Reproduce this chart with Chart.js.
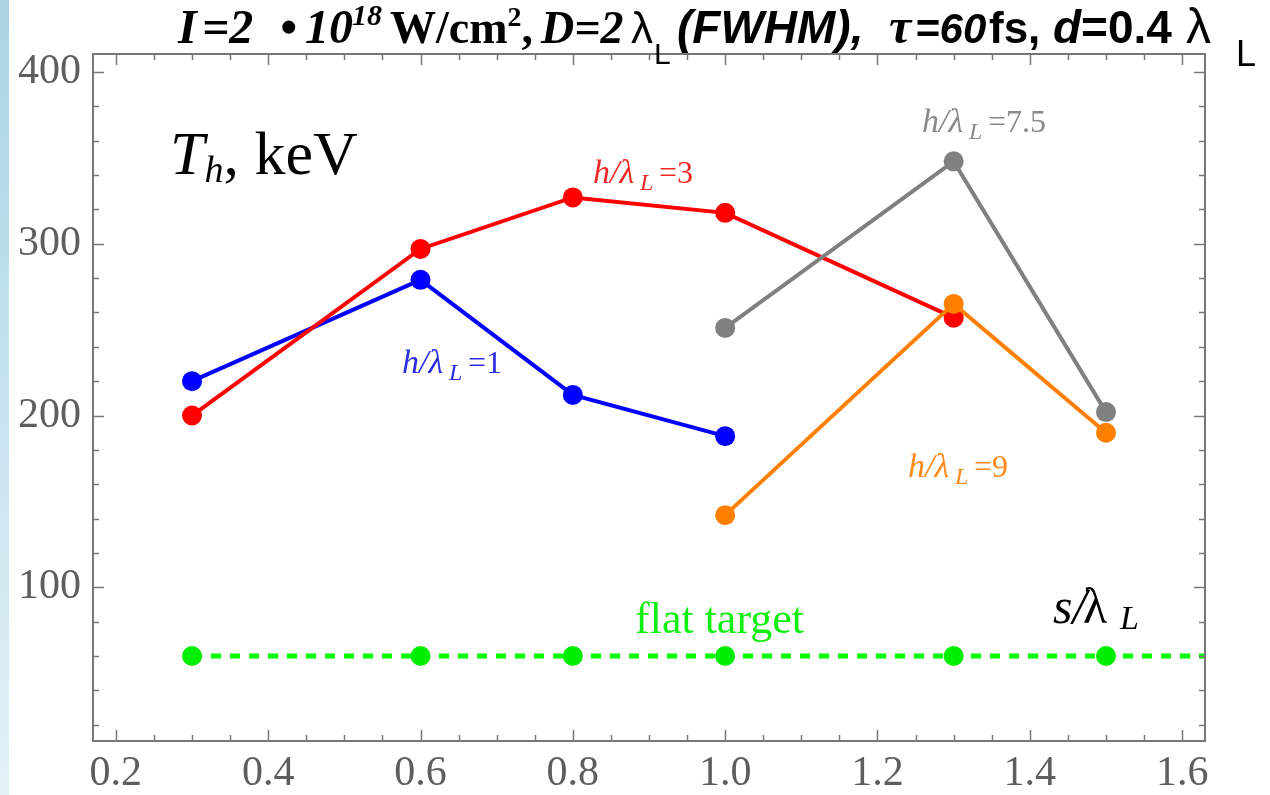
<!DOCTYPE html>
<html>
<head>
<meta charset="utf-8">
<script src="https://cdn.jsdelivr.net/npm/chart.js@4.4.1/dist/chart.umd.min.js"></script>
<style>
  html, body { margin: 0; padding: 0; background: #fff; }
  #wrap { position: relative; width: 1270px; height: 795px; }
  #strip {
    position: absolute; left: 0; top: 0; width: 9px; height: 795px;
    background: linear-gradient(180deg, #a9d4e4 0%, #c6e3ee 50%, #e2f1f6 100%);
  }
  canvas { position: absolute; left: 0; top: 0; }
</style>
</head>
<body>
<div id="wrap">
  <canvas id="chart" width="1270" height="795"></canvas>
  <div id="strip"></div>
</div>
<script>
// data
const sBlue = [0.3, 0.6, 0.8, 1.0];
const tBlue = [220, 279, 212, 188];        // h/λL = 1
const sRed = [0.3, 0.6, 0.8, 1.0, 1.3];
const tRed = [200, 297, 327, 318, 257];    // h/λL = 3
const sGray = [1.0, 1.3, 1.5];
const tGray = [251, 348, 202];             // h/λL = 7.5
const sOrange = [1.0, 1.3, 1.5];
const tOrange = [142, 265, 190];           // h/λL = 9
const sFlat = [0.3, 0.6, 0.8, 1.0, 1.3, 1.5];
const tFlat = [60, 60, 60, 60, 60, 60];    // flat target

const xTicks = [0.2, 0.4, 0.6, 0.8, 1.0, 1.2, 1.4, 1.6];
const yTicks = [100, 200, 300, 400];
const X_MIN = 0.17, X_MAX = 1.63;
const Y_MIN = 10.5, Y_MAX = 410.5;

const pts = (xs, ys) => xs.map((x, i) => ({ x, y: ys[i] }));

function serie(xs, ys, color) {
  return {
    data: pts(xs, ys),
    borderColor: color,
    backgroundColor: color,
    borderWidth: 4,
    pointRadius: 10,
    pointHoverRadius: 10,
    pointBorderWidth: 0,
    showLine: true
  };
}

// frame with inward ticks, like the original
const pluginMarco = {
  id: "marco",
  afterDatasetsDraw(chart) {
    const { ctx, chartArea: a, scales } = chart;
    const sx = scales.x, sy = scales.y;
    ctx.save();
    ctx.strokeStyle = "#777";
    ctx.lineWidth = 2;
    ctx.strokeRect(a.left, a.top, a.right - a.left, a.bottom - a.top);
    ctx.lineWidth = 1.5;
    ctx.beginPath();
    for (let v = 0.2; v <= X_MAX + 1e-9; v += 0.05) {
      const major = xTicks.some(t => Math.abs(t - v) < 1e-6);
      const len = major ? 11 : 6;
      const px = Math.round(sx.getPixelForValue(v)) + 0.5;
      ctx.moveTo(px, a.bottom); ctx.lineTo(px, a.bottom - len);
      ctx.moveTo(px, a.top); ctx.lineTo(px, a.top + len);
    }
    for (let v = 20; v <= Y_MAX; v += 20) {
      const major = yTicks.includes(v);
      const len = major ? 11 : 6;
      const py = Math.round(sy.getPixelForValue(v)) + 0.5;
      ctx.moveTo(a.left, py); ctx.lineTo(a.left + len, py);
      ctx.moveTo(a.right, py); ctx.lineTo(a.right - len, py);
    }
    ctx.stroke();
    ctx.restore();
  }
};

function escribir(ctx, runs, x0, y0) {
  let x = x0;
  runs.forEach(r => {
    if (r.x !== undefined) x = r.x;
    ctx.font = r.font;
    ctx.fillStyle = r.color;
    ctx.fillText(r.t, x, y0 + (r.dy || 0));
    x += ctx.measureText(r.t).width;
  });
}

const SERIF = "'Liberation Serif', 'Times New Roman', serif";
const SANS = "'Liberation Sans', Arial, sans-serif";

function etiquetaH(ctx, x, y, color, valor) {
  escribir(ctx, [
    { t: "h/λ", font: `italic 34px ${SERIF}`, color },
    { t: "L", font: `italic 24px ${SERIF}`, color, dy: 7, x: x + 47 },
    { t: "=" + valor, font: `32px ${SERIF}`, color, x: x + 66 }
  ], x, y);
}

const pluginTextos = {
  id: "textos",
  afterDraw(chart) {
    const ctx = chart.ctx;
    ctx.save();
    ctx.textBaseline = "alphabetic";
    const k = "#000";
    // title
    escribir(ctx, [
      { t: "I", font: `italic bold 48px ${SERIF}`, color: k, x: 178 },
      { t: "=2", font: `italic bold 48px ${SERIF}`, color: k, x: 202 },
      { t: "•", font: `italic bold 48px ${SERIF}`, color: k, x: 280 },
      { t: "10", font: `italic bold 48px ${SERIF}`, color: k, x: 305 },
      { t: "18", font: `italic bold 30px ${SERIF}`, color: k, dy: -18, x: 352 },
      { t: "W/cm", font: `bold 46px ${SERIF}`, color: k, x: 390 },
      { t: "2", font: `bold 28px ${SERIF}`, color: k, dy: -17 },
      { t: ",", font: `bold 46px ${SERIF}`, color: k },
      { t: "D=2", font: `italic bold 46px ${SERIF}`, color: k, x: 541 },
      { t: "λ", font: `44px ${SANS}`, color: k, x: 631 },
      { t: "L", font: `30px ${SANS}`, color: k, x: 654, dy: 21 },
      { t: "(FWHM),", font: `italic bold 46px ${SANS}`, color: k, x: 677 },
      { t: "τ", font: `italic bold 50px ${SERIF}`, color: k, x: 889 },
      { t: "=60", font: `italic bold 42px ${SANS}`, color: k, x: 915 },
      { t: "fs,", font: `bold 44px ${SANS}`, color: k, x: 989 },
      { t: "d", font: `italic bold 46px ${SANS}`, color: k, x: 1053 },
      { t: "=0.4", font: `bold 46px ${SANS}`, color: k },
      { t: "λ", font: `50px ${SANS}`, color: k, x: 1186 },
      { t: "L", font: `36px ${SANS}`, color: k, x: 1236, dy: 23 }
    ], 178, 43);

    // axis captions inside the frame
    escribir(ctx, [
      { t: "T", font: `italic 62px ${SERIF}`, color: k },
      { t: "h", font: `italic 38px ${SERIF}`, color: k, dy: 8 },
      { t: ", keV", font: `62px ${SERIF}`, color: k }
    ], 170, 174);
    escribir(ctx, [
      { t: "s/", font: `italic 50px ${SERIF}`, color: k },
      { t: "λ", font: `50px ${SERIF}`, color: k, x: 1083 },
      { t: "L", font: `italic 34px ${SERIF}`, color: k, dy: 6, x: 1120 }
    ], 1053, 623);
    escribir(ctx, [{ t: "flat target", font: `44px ${SERIF}`, color: "#11ee11" }], 635, 633);

    etiquetaH(ctx, 593, 183, "#f02828", "3");
    etiquetaH(ctx, 402, 373, "#2c2ce6", "1");
    etiquetaH(ctx, 922, 132, "#8a8a8a", "7.5");
    etiquetaH(ctx, 908, 477, "#ff8a1a", "9");
    ctx.restore();
  }
};

const fuenteTicks = { family: SERIF, size: 42 };

new Chart(document.getElementById("chart"), {
  type: "scatter",
  data: {
    datasets: [
      serie(sOrange, tOrange, "#ff8000"),
      serie(sGray, tGray, "#808080"),
      serie(sRed, tRed, "#ff0000"),
      serie(sBlue, tBlue, "#0000ff"),
      {
        ...serie(sFlat, tFlat, "#00ee00"),
        borderColor: "#00ff00",
        backgroundColor: "#00ee00",
        borderWidth: 5,
        borderDash: [10, 9],
        showLine: false
      },
      {
        data: pts([sFlat[0], X_MAX], [tFlat[0], tFlat[0]]),
        borderColor: "#00ff00",
        borderWidth: 5,
        borderDash: [10, 9],
        pointRadius: 0,
        showLine: true
      }
    ]
  },
  options: {
    responsive: false,
    animation: false,
    events: [],
    layout: { padding: { left: 0, top: 54, right: 65, bottom: 0 } },
    plugins: { legend: { display: false }, tooltip: { enabled: false } },
    scales: {
      x: {
        type: "linear",
        min: X_MIN,
        max: X_MAX,
        afterBuildTicks: s => { s.ticks = xTicks.map(v => ({ value: v })); },
        afterFit: s => { s.height = 54; },
        grid: { display: false, drawTicks: false },
        border: { display: false },
        ticks: {
          font: fuenteTicks,
          color: "#5e5e5e",
          padding: 8,
          maxRotation: 0,
          autoSkip: false,
          callback: v => v.toFixed(1)
        }
      },
      y: {
        type: "linear",
        min: Y_MIN,
        max: Y_MAX,
        afterBuildTicks: s => { s.ticks = yTicks.map(v => ({ value: v })); },
        afterFit: s => { s.width = 93; },
        grid: { display: false, drawTicks: false },
        border: { display: false },
        ticks: {
          font: fuenteTicks,
          color: "#5e5e5e",
          padding: 12,
          callback: v => String(v)
        }
      }
    }
  },
  plugins: [pluginMarco, pluginTextos]
});
</script>
</body>
</html>
